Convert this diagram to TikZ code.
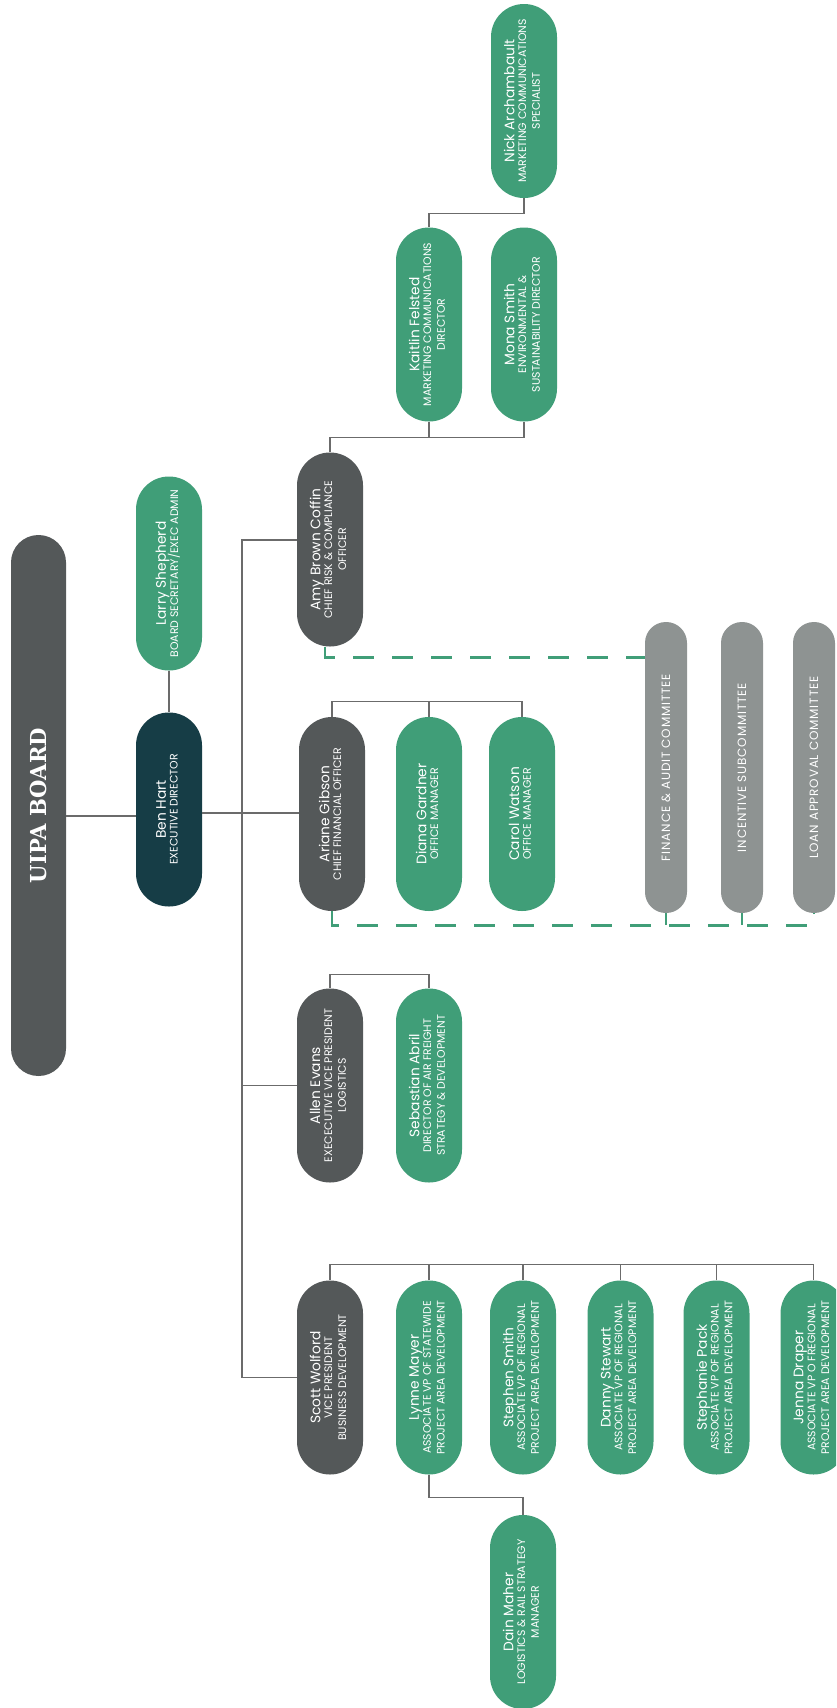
\documentclass[tikz,border=0pt]{standalone}
\usepackage{fontspec}
\usepackage{graphicx}
\setmainfont{Poppins}
\newfontfamily\slabfont{DejaVu Serif}[FakeStretch=0.96]
\definecolor{ugreen}{HTML}{409E78}
\definecolor{dgray}{HTML}{545859}
\definecolor{uteal}{HTML}{163D46}
\definecolor{cgray}{HTML}{8E9392}
\definecolor{lgray}{HTML}{6B6B6B}
\newcommand{\ptxt}[2]{\rotatebox{90}{\fontsize{10.9}{13.8}\selectfont\begin{tabular}{@{}c@{}}{\fontsize{13.8}{14}\selectfont #1}\\[-2pt] #2\end{tabular}}}
\newcommand{\ctxt}[1]{\rotatebox{90}{\addfontfeatures{LetterSpace=7}\fontsize{12}{12}\selectfont #1}}
\tikzset{
  pbox/.style={rectangle, rounded corners=32.9pt, minimum width=66pt, minimum height=194pt, inner sep=0pt, text=white},
  cbox/.style={rectangle, rounded corners=20.9pt, minimum width=42pt, minimum height=291pt, inner sep=0pt, text=white, fill=cgray},
  conn/.style={draw=lgray, line width=1.2pt},
  dline/.style={draw=ugreen, line width=2.6pt, dash pattern=on 21pt off 18pt},
}
\begin{document}
\begin{tikzpicture}[x=1pt, y=-1pt]
\useasboundingbox (0,0) rectangle (836,1708);
\clip (0,0) rectangle (836,1708);

% board
\node[rectangle, rounded corners=27.4pt, fill=dgray, minimum width=55pt, minimum height=541pt, inner sep=0pt, text=white] (uipa) at (38.5,805.5)
  {\rotatebox{90}{\slabfont\bfseries\fontsize{22}{22}\selectfont UIPA BOARD}};

% people
\node[pbox, fill=ugreen] (larry) at (169,573.5) {\ptxt{Larry Shepherd}{BOARD SECRETARY/EXEC ADMIN}};
\node[pbox, fill=uteal] (ben) at (169,809.5) {\ptxt{Ben Hart}{EXECUTIVE DIRECTOR}};
\node[pbox, fill=dgray] (amy) at (330,549.5) {\ptxt{Amy Brown Coffin}{CHIEF RISK \& COMPLIANCE\\ OFFICER}};
\node[pbox, fill=ugreen] (kaitlin) at (429,324.5) {\ptxt{Kaitlin Felsted}{MARKETING COMMUNICATIONS\\ DIRECTOR}};
\node[pbox, fill=ugreen] (mona) at (524,324.5) {\ptxt{Mona Smith}{ENVIRONMENTAL \&\\ SUSTAINABILITY DIRECTOR}};
\node[pbox, fill=ugreen] (nick) at (524,101) {\ptxt{Nick Archambault}{MARKETING COMMUNICATIONS\\ SPECIALIST}};
\node[pbox, fill=dgray] (ariane) at (332,814) {\ptxt{Ariane Gibson}{CHIEF FINANCIAL OFFICER}};
\node[pbox, fill=ugreen] (diana) at (429,814) {\ptxt{Diana Gardner}{OFFICE MANAGER}};
\node[pbox, fill=ugreen] (carol) at (522,814) {\ptxt{Carol Watson}{OFFICE MANAGER}};
\node[pbox, fill=dgray] (allen) at (330,1085.5) {\ptxt{Allen Evans}{EXECECUTIVE VICE PRESIDENT\\ LOGISTICS}};
\node[pbox, fill=ugreen] (sebastian) at (429,1085.5) {\ptxt{Sebastian Abril}{DIRECTOR OF AIR FREIGHT\\ STRATEGY \& DEVELOPMENT}};
\node[pbox, fill=dgray] (scott) at (330,1377.5) {\ptxt{Scott Wolford}{VICE PRESIDENT\\ BUSINESS DEVELOPMENT}};
\node[pbox, fill=ugreen] (lynne) at (429,1377.5) {\ptxt{Lynne Mayer}{ASSOCIATE VP OF STATEWIDE\\ PROJECT AREA DEVELOPMENT}};
\node[pbox, fill=ugreen] (stephen) at (523,1377.5) {\ptxt{Stephen Smith}{ASSOCIATE VP OF REGIONAL\\ PROJECT AREA DEVELOPMENT}};
\node[pbox, fill=ugreen] (danny) at (620.5,1377.5) {\ptxt{Danny Stewart}{ASSOCIATE VP OF REGIONAL\\ PROJECT AREA DEVELOPMENT}};
\node[pbox, fill=ugreen] (stephanie) at (716.5,1377.5) {\ptxt{Stephanie Pack}{ASSOCIATE VP OF REGIONAL\\ PROJECT AREA DEVELOPMENT}};
\node[pbox, fill=ugreen] (jenna) at (813.5,1377.5) {\ptxt{Jenna Draper}{ASSOCIATE VP O FREGIONAL\\ PROJECT AREA DEVELOPMENT}};
\node[pbox, fill=ugreen] (dain) at (523,1612) {\ptxt{Dain Maher}{LOGISTICS \& RAIL STRATEGY\\ MANAGER}};

% committees
\node[cbox] (finance) at (666,767.5) {\ctxt{FINANCE \& AUDIT COMMITTEE}};
\node[cbox] (incentive) at (742,767.5) {\ctxt{INCENTIVE SUBCOMMITTEE}};
\node[cbox] (loan) at (814,767.5) {\ctxt{LOAN APPROVAL COMMITTEE}};

% connectors
\path ([yshift=-6.5pt]ben.west) coordinate (bw);
\draw[conn] (bw -| uipa.east) -- (bw);
\draw[conn] (larry.south) -- (ben.north);
\path ([yshift=-3.5pt]ben.east) coordinate (be);
\draw[conn] (be) -- (be -| ariane.west);
\coordinate (tk) at (242,0);
\draw[conn] ([yshift=9.5pt]amy.west) -| (tk |- scott.west) -- (scott.west);
\draw[conn] (tk |- allen.west) -- (allen.west);

% risk group
\draw[conn] (amy.north) -- ++(0,-15) coordinate (ba) -| (mona.south);
\draw[conn] (kaitlin.south) -- (kaitlin.south |- ba);
\draw[conn] (nick.south) -- ++(0,15) -| (kaitlin.north);

% finance group
\draw[conn] (ariane.north) -- ++(0,-15) coordinate (bf) -| (carol.north);
\draw[conn] (diana.north) -- (diana.north |- bf);

% logistics group
\draw[conn] (allen.north) -- ++(0,-14) -| (sebastian.north);

% business development group
\draw[conn] (scott.north) -- ++(0,-16) coordinate (bs) -| (jenna.north);
\foreach \n in {lynne,stephen,danny,stephanie} {
  \draw[conn] (\n.north) -- (\n.north |- bs);
}
\draw[conn] (lynne.south) -- ++(0,23) -| (dain.north);

% dashed committee links
\draw[dline] ([xshift=-5pt]amy.south) -- ++(0,11) coordinate (d1) -- (d1 -| finance.west);
\draw[dline] (ariane.south) -- ++(0,14) coordinate (d2) -- (d2 -| loan.south) -- (loan.south);
\draw[dline] (finance.south) -- (finance.south |- d2);
\draw[dline] (incentive.south) -- (incentive.south |- d2);
\end{tikzpicture}
\end{document}
